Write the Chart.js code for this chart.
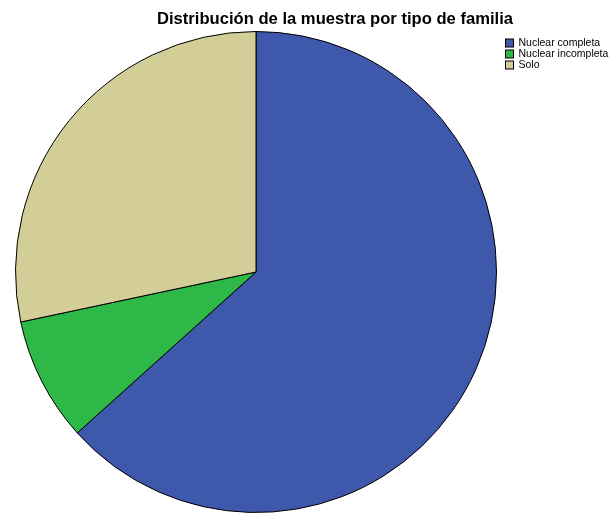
<!DOCTYPE html>
<html>
<head>
<meta charset="utf-8">
<script src="https://cdn.jsdelivr.net/npm/chart.js@4"></script>
<style>
html,body{margin:0;padding:0;background:#fff;}
#wrap{width:613px;height:513px;position:relative;}
</style>
</head>
<body>
<div id="wrap"><canvas id="c" width="613" height="513"></canvas></div>
<script>
const title = "Distribución de la muestra por tipo de familia";
const categories = ["Nuclear completa", "Nuclear incompleta", "Solo"];
const counts = [38, 5, 17];
const colors = ["#3E58AC", "#2EB848", "#D3CE97"];

const overlay = {
  id: 'overlay',
  afterDraw(chart) {
    const ctx = chart.ctx;
    ctx.save();
    ctx.fillStyle = '#000';
    ctx.font = 'bold 16px "Liberation Sans", Arial, sans-serif';
    ctx.textAlign = 'left';
    ctx.textBaseline = 'alphabetic';
    const w = ctx.measureText(title).width;
    const sx = 356 / w;
    ctx.save();
    ctx.translate(157, 24);
    ctx.scale(sx, 1);
    ctx.fillText(title, 0, 0);
    ctx.restore();
    ctx.font = '10.5px "Liberation Sans", Arial, sans-serif';
    ctx.textAlign = 'left';
    ctx.textBaseline = 'middle';
    const labels = chart.data.labels;
    const bg = chart.data.datasets[0].backgroundColor;
    labels.forEach((l, i) => {
      const y = 42.5 + i * 11;
      ctx.fillStyle = bg[i];
      ctx.fillRect(505.5, y - 3.5, 8, 8);
      ctx.strokeStyle = '#000';
      ctx.lineWidth = 1;
      ctx.strokeRect(505.5, y - 3.5, 8, 8);
      ctx.fillStyle = '#000';
      ctx.fillText(l, 518.5, y + 0.5);
    });
    ctx.restore();
  }
};

new Chart(document.getElementById('c'), {
  type: 'pie',
  data: {
    labels: categories,
    datasets: [{
      data: counts,
      backgroundColor: colors,
      borderColor: '#000',
      borderWidth: 1
    }]
  },
  options: {
    responsive: false,
    animation: false,
    layout: { padding: { left: 15, right: 116, top: 31, bottom: 0 } },
    plugins: {
      legend: { display: false },
      title: { display: false },
      tooltip: { enabled: false }
    }
  },
  plugins: [overlay]
});
</script>
</body>
</html>
